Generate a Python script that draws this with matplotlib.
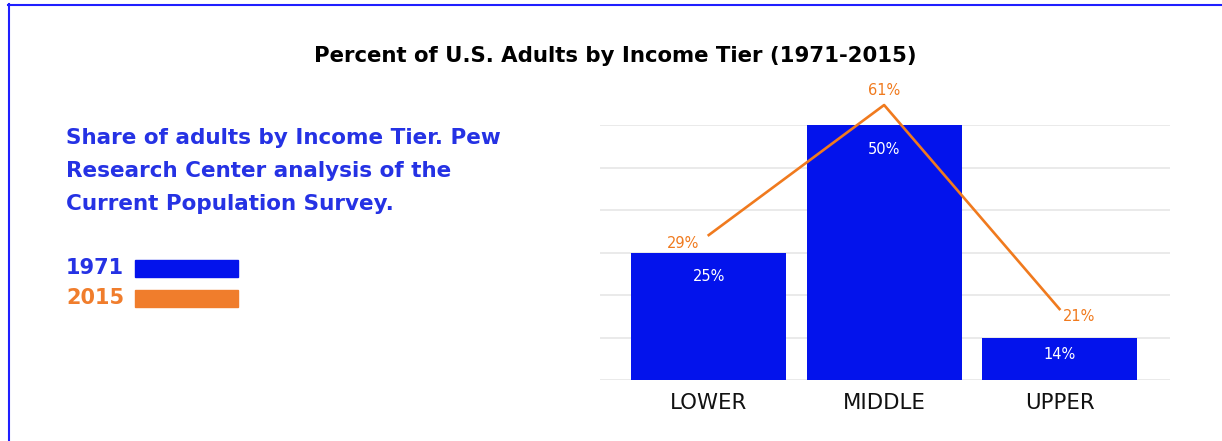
import matplotlib
matplotlib.use("Agg")
import matplotlib.pyplot as plt
from matplotlib.lines import Line2D
from matplotlib.patches import Rectangle

# data
tiers = ["LOWER", "MIDDLE", "UPPER"]
bar_1971 = [30, 60, 10]          # drawn heights (chart units)
bar_1971_labels = ["25%", "50%", "14%"]
line_2015 = [34.1, 64.7, 16.7]   # drawn heights (chart units)
line_2015_labels = ["29%", "61%", "21%"]
line_label_offsets = [(-26, -8), (0, 15), (20, -7)]  # pixels

BAR_BLUE = "#0313ec"
ORANGE = "#f07a1e"
TEXT_BLUE = "#2532e4"
LEGEND_ORANGE = "#f07d2c"

W, H = 1222, 441
fig = plt.figure(figsize=(W / 100, H / 100), dpi=100)
fig.patch.set_facecolor("white")

def fx(px): return px / W
def fy(py): return 1 - py / H

ax = fig.add_axes([fx(600), fy(380), fx(1170) - fx(600), fy(125) - fy(380)])
x = list(range(len(tiers)))
ax.set_xlim(-0.62, 2.63)
ax.set_ylim(0, 60)
ax.set_yticks(range(0, 61, 10))
ax.yaxis.grid(True, color="#e6e6e6", linewidth=1.2)
ax.set_axisbelow(True)
ax.tick_params(axis="y", left=False, labelleft=False)
ax.tick_params(axis="x", bottom=False, pad=6)
for s in ax.spines.values():
    s.set_visible(False)

bars = ax.bar(x, bar_1971, width=0.883, color=BAR_BLUE, zorder=2)
ax.set_xticks(x)
ax.set_xticklabels(tiers, fontsize=15.3, color="#111111")

px_per_unit = (380 - 125) / 60
for xi, h, lab in zip(x, bar_1971, bar_1971_labels):
    off = min(24, h * px_per_unit / 2 - 4)
    ax.annotate(lab, (xi, h), xytext=(0, -off), textcoords="offset pixels",
                ha="center", va="center", color="white", fontsize=10.5, zorder=3)

ax.plot(x, line_2015, color=ORANGE, linewidth=1.9, zorder=4, clip_on=False)
for xi, v, lab, (dx, dy) in zip(x, line_2015, line_2015_labels, line_label_offsets):
    ax.annotate(lab, (xi, v), xytext=(dx, dy), textcoords="offset pixels",
                ha="center", va="center", color=ORANGE, fontsize=10.5,
                annotation_clip=False)

# title and side text
fig.text(fx(615), fy(56), "Percent of U.S. Adults by Income Tier (1971-2015)",
         ha="center", va="center", fontsize=15.3, fontweight="bold", color="black")
fig.text(fx(66), fy(128.5),
         "Share of adults by Income Tier. Pew\nResearch Center analysis of the\nCurrent Population Survey.",
         ha="left", va="top", fontsize=15.5, fontweight="bold", color=TEXT_BLUE,
         linespacing=1.8)

# legend
fig.text(fx(66), fy(268), "1971", ha="left", va="center", fontsize=15,
         fontweight="bold", color=TEXT_BLUE)
fig.text(fx(66), fy(298), "2015", ha="left", va="center", fontsize=15,
         fontweight="bold", color=LEGEND_ORANGE)
fig.patches.append(Rectangle((fx(135), fy(277)), fx(238) - fx(135), fy(260) - fy(277),
                             transform=fig.transFigure, color=BAR_BLUE))
fig.patches.append(Rectangle((fx(135), fy(307)), fx(238) - fx(135), fy(290) - fy(307),
                             transform=fig.transFigure, color=LEGEND_ORANGE))

# frame lines (top and left)
fig.lines.append(Line2D([fx(8), 1], [fy(4.5), fy(4.5)], transform=fig.transFigure,
                        color="#1f1fff", linewidth=1.5))
fig.lines.append(Line2D([fx(8.5), fx(8.5)], [fy(4), 0], transform=fig.transFigure,
                        color="#1f1fff", linewidth=1.5))

fig.savefig("out.png", dpi=100, facecolor="white")
